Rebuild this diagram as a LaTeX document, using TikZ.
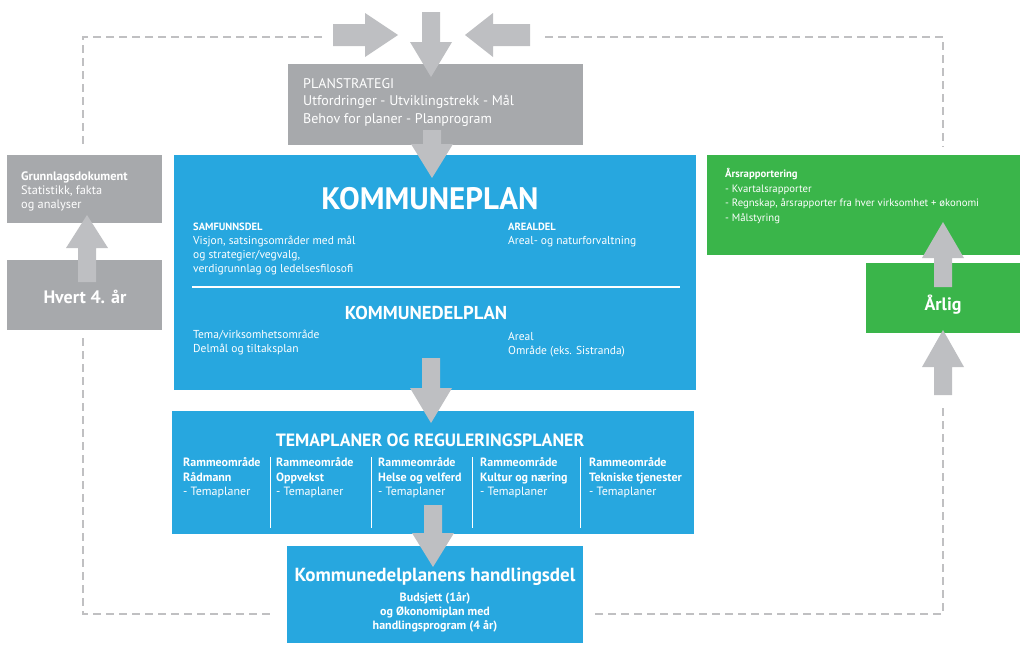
\documentclass[tikz,border=0pt]{standalone}
\usepackage{fontspec}
\setmainfont{PT Sans}
\definecolor{kblue}{RGB}{39,167,223}
\definecolor{kgreen}{RGB}{58,181,74}
\definecolor{kgray}{RGB}{167,169,172}
\definecolor{agray}{RGB}{190,191,194}
\definecolor{dgray}{RGB}{192,192,194}
\newcommand\varrow[4]{\fill[agray] ({#1-9},#2) -- ({#1+9},#2) -- ({#1+9},#3) -- ({#1+21},#3) -- (#1,#4) -- ({#1-21},#3) -- ({#1-9},#3) -- cycle;}
\newcommand\harrow[4]{\fill[agray] (#2,{#1-11}) -- (#2,{#1+11}) -- (#3,{#1+11}) -- (#3,{#1+22}) -- (#4,#1) -- (#3,{#1-22}) -- (#3,{#1-11}) -- cycle;}
\tikzset{
  box/.style={inner sep=0pt, anchor=north west},
  txt/.style={text=white, inner sep=0pt, align=left},
  dashloop/.style={draw=dgray, line width=2pt, dash pattern=on 8pt off 5pt},
}
\begin{document}
\begin{tikzpicture}[x=1pt,y=-1pt]
\useasboundingbox (0,0) rectangle (1024,653);
% boxes
\node[box, fill=kgray, minimum width=295pt, minimum height=81pt] (plan) at (288,64) {};
\node[box, fill=kgray, minimum width=155pt, minimum height=68pt] (grunn) at (7,155) {};
\node[box, fill=kgray, minimum width=155pt, minimum height=70pt] (hvert) at (7,260) {};
\node[box, fill=kblue, minimum width=522pt, minimum height=235pt] (kplan) at (174,155) {};
\node[box, fill=kblue, minimum width=522pt, minimum height=123pt] (tema) at (172,411) {};
\node[box, fill=kblue, minimum width=296pt, minimum height=97pt] (hand) at (287,546) {};
\node[box, fill=kgreen, minimum width=313pt, minimum height=100pt] (aars) at (707,155) {};
\node[box, fill=kgreen, minimum width=154pt, minimum height=70pt] (arlig) at (866,263) {};
% dashed loop
\coordinate (tl) at (83,37); \coordinate (tr) at (943,37);
\coordinate (bl) at (83,614); \coordinate (br) at (943,614);
\draw[dashloop] (322,37) -- (tl) -- (83,147);
\draw[dashloop] (545,37) -- (tr) -- (943,147);
\draw[dashloop] (83,338) -- (bl) -- (273,614);
\draw[dashloop] (943,408) -- (br) -- (592,614);
% texts
\node[txt, anchor=west, font=\fontsize{14}{17.5}\selectfont] (plantxt) at (303,102) {PLANSTRATEGI\\Utfordringer - Utviklingstrekk - Mål\\Behov for planer - Planprogram};
\node[txt, anchor=center, font=\bfseries\fontsize{31}{31}\selectfont] (kptitle) at (430,199) {KOMMUNEPLAN};
\node[txt, anchor=west, font=\fontsize{11.5}{14}\selectfont] (samf) at (193,249) {{\bfseries\fontsize{10.5}{14}\selectfont SAMFUNNSDEL}\\Visjon, satsingsområder med mål\\og strategier/vegvalg,\\verdigrunnlag og ledelsesfilosofi};
\node[txt, anchor=west, font=\fontsize{11.5}{14}\selectfont] (areal) at (508,235) {{\bfseries\fontsize{10.5}{14}\selectfont AREALDEL}\\Areal- og naturforvaltning};
\draw[white, line width=1.5pt] (192,287) -- (680,287);
\node[txt, anchor=center, font=\bfseries\fontsize{18.7}{18.7}\selectfont] (kdp) at (426,313) {KOMMUNEDELPLAN};
\node[txt, anchor=west, font=\fontsize{11.5}{14}\selectfont] (temav) at (193,342) {Tema/virksomhetsområde\\Delmål og tiltaksplan};
\node[txt, anchor=west, font=\fontsize{11.5}{14}\selectfont] (arealo) at (508,345) {Areal\\Område (eks. Sistranda)};
\node[txt, anchor=center, font=\bfseries\fontsize{17.8}{17.8}\selectfont] (tematitle) at (430,440) {TEMAPLANER OG REGULERINGSPLANER};
\foreach \x/\n/\t in {183/c1/Rådmann, 276/c2/Oppvekst, 378/c3/Helse og velferd, 480/c4/Kultur og næring, 589/c5/Tekniske tjenester}{
  \node[txt, anchor=west, font=\fontsize{12}{14.5}\selectfont] (\n) at (\x,478) {\textbf{Rammeområde}\\\textbf{\t}\\- Temaplaner};
}
\foreach \x in {270,371,472,580}{ \draw[white, line width=0.8pt] (\x,457) -- (\x,528); }
\node[txt, anchor=center, font=\bfseries\fontsize{19}{19}\selectfont] (handtitle) at (435,577) {Kommunedelplanens handlingsdel};
\node[txt, align=center, anchor=center, font=\bfseries\fontsize{12}{14}\selectfont] (handtxt) at (435,612) {Budsjett (1år)\\og Økonomiplan med\\handlingsprogram (4 år)};
\node[txt, anchor=west, font=\fontsize{12.3}{14}\selectfont] (grunntxt) at (21,191) {\textbf{Grunnlagsdokument}\\Statistikk, fakta\\og analyser};
\node[txt, anchor=west, font=\fontsize{10.7}{14.5}\selectfont] (aarstxt) at (725,196) {\textbf{Årsrapportering}\\- Kvartalsrapporter\\- Regnskap, årsrapporter fra hver virksomhet + økonomi\\- Målstyring};
% arrows
\varrow{431}{12}{42}{77}
\harrow{35}{333}{365}{398}
\harrow{35}{530}{493}{465}
\varrow{432}{130}{144}{178}
\varrow{431}{358}{388}{423}
\varrow{433}{505}{533}{567}
\varrow{87}{282}{248}{215}
\varrow{943}{287}{258}{222}
\varrow{943}{395}{367}{330}
\node[txt, anchor=center, font=\bfseries\fontsize{18}{18}\selectfont] (hverttxt) at (85,297) {Hvert 4. år};
\node[txt, anchor=center, font=\bfseries\fontsize{18}{18}\selectfont] (arligtxt) at (943,305) {Årlig};
\end{tikzpicture}
\end{document}
